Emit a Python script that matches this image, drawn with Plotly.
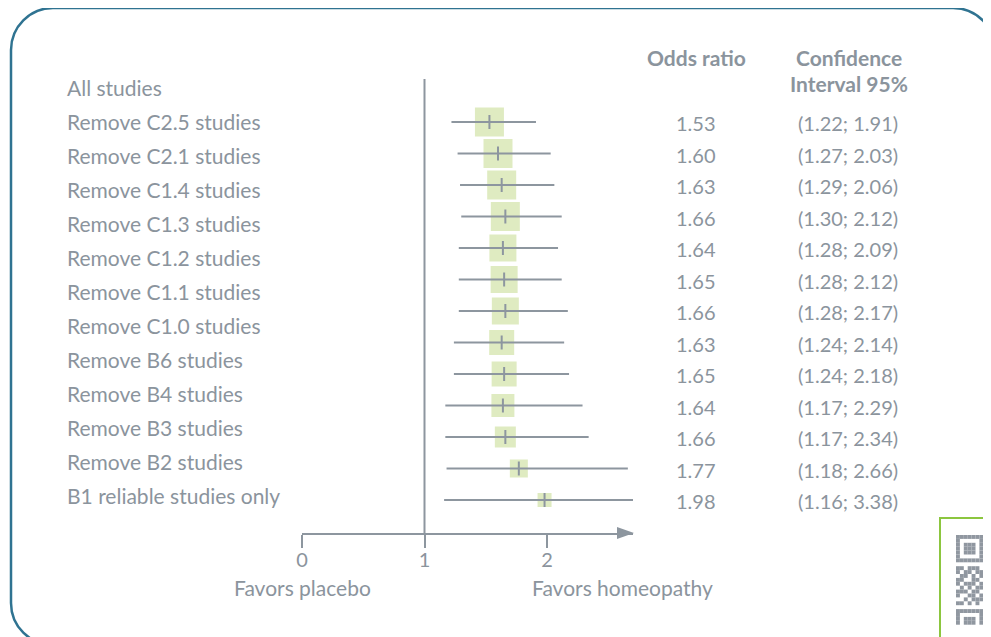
import plotly.graph_objects as go

# ---------------- data ----------------
row_labels = [
    "All studies",
    "Remove C2.5 studies",
    "Remove C2.1 studies",
    "Remove C1.4 studies",
    "Remove C1.3 studies",
    "Remove C1.2 studies",
    "Remove C1.1 studies",
    "Remove C1.0 studies",
    "Remove B6 studies",
    "Remove B4 studies",
    "Remove B3 studies",
    "Remove B2 studies",
    "B1 reliable studies only",
]
odds_ratio = [1.53, 1.60, 1.63, 1.66, 1.64, 1.65, 1.66, 1.63, 1.65, 1.64, 1.66, 1.77, 1.98]
ci_low = [1.22, 1.27, 1.29, 1.30, 1.28, 1.28, 1.28, 1.24, 1.24, 1.17, 1.17, 1.18, 1.16]
ci_high = [1.91, 2.03, 2.06, 2.12, 2.09, 2.12, 2.17, 2.14, 2.18, 2.29, 2.34, 2.66, 3.38]
weights = [29, 29, 29, 29, 27, 27, 27, 25, 25, 23, 21, 18, 14]  # relative box size
x_tick_vals = [0, 1, 2]
x_tick_text = ["0", "1", "2"]

# ---------------- styling ----------------
FONT = "Lato"
GRAY = "#8b949d"
LINE = "#8d969f"
GREEN = "#d1e3a6"
TEAL = "#2f7391"
W, H = 991, 637
OFF = 8  # page body margin
ML, MT = 294, 71
PW, PH = 331, 454
MR = W - ML - PW
MB = H - MT - PH


def px(x):
    """screen x pixel -> paper x"""
    return (x - OFF - ML) / PW


def py(y):
    """screen y pixel -> paper y"""
    return 1 - (y - OFF - MT) / PH


rows = list(range(len(odds_ratio)))

fig = go.Figure()

wx, wy = [], []
for i, lo, hi in zip(rows, ci_low, ci_high):
    wx += [lo, hi, None]
    wy += [i, i, None]
# boxes
fig.add_trace(go.Scatter(x=odds_ratio, y=rows, mode="markers",
                         marker=dict(symbol="square", size=weights, color=GREEN,
                                     line=dict(width=0)), hoverinfo="skip"))
# whiskers
fig.add_trace(go.Scatter(x=wx, y=wy, mode="lines",
                         line=dict(color=LINE, width=2), hoverinfo="skip"))
# point estimate ticks
fig.add_trace(go.Scatter(x=odds_ratio, y=rows, mode="markers",
                         marker=dict(symbol="line-ns", size=10,
                                     line=dict(color=LINE, width=2)),
                         hoverinfo="skip"))
# dummy trace for label axis
fig.add_trace(go.Scatter(x=[None], y=[None], yaxis="y2", showlegend=False))

annotations = []
for j, lab in enumerate(row_labels):
    annotations.append(dict(x=px(65), xref="paper", y=j, yref="y2", text=lab,
                            showarrow=False, xanchor="left", yanchor="middle",
                            font=dict(family=FONT, size=21, color=GRAY)))
for i, o, lo, hi in zip(rows, odds_ratio, ci_low, ci_high):
    annotations.append(dict(x=px(696), xref="paper", y=i, yref="y", text=f"{o:.2f}",
                            showarrow=False, xanchor="center", yanchor="middle",
                            yshift=-1,
                            font=dict(family=FONT, size=20, color=GRAY)))
    annotations.append(dict(x=px(848), xref="paper", y=i, yref="y",
                            text=f"({lo:.2f}; {hi:.2f})",
                            showarrow=False, xanchor="center", yanchor="middle",
                            yshift=-1,
                            font=dict(family=FONT, size=20, color=GRAY)))
# headers
for txt, xc, yc in [("Odds ratio", 696, 58), ("Confidence", 849, 58),
                    ("Interval 95%", 849, 84)]:
    annotations.append(dict(x=px(xc), xref="paper", y=py(yc), yref="paper",
                            text=f"<b>{txt}</b>", showarrow=False,
                            xanchor="center", yanchor="middle",
                            font=dict(family=FONT, size=21, color=GRAY)))
# axis captions
annotations.append(dict(x=0, xref="x", y=py(587), yref="paper",
                        text="Favors placebo", showarrow=False,
                        xanchor="center", yanchor="middle",
                        font=dict(family=FONT, size=21, color=GRAY)))
annotations.append(dict(x=px(622), xref="paper", y=py(587), yref="paper",
                        text="Favors homeopathy", showarrow=False,
                        xanchor="center", yanchor="middle",
                        font=dict(family=FONT, size=21, color=GRAY)))

shapes = []
shapes.append(dict(type="line", x0=1, x1=1, xref="x", y0=0, y1=1, yref="paper",
                   line=dict(color=LINE, width=2), layer="above"))
shapes.append(dict(type="path", xref="paper", yref="paper",
                   path=f"M {px(634)},{py(533)} L {px(617)},{py(527)} L {px(617)},{py(539)} Z",
                   fillcolor=LINE, line=dict(width=0)))


def rounded_rect(x0, y0, x1, y1, r):
    k = 0.5523 * r
    pts = [
        f"M {px(x0 + r)},{py(y0)}",
        f"L {px(x1 - r)},{py(y0)}",
        f"C {px(x1 - r + k)},{py(y0)} {px(x1)},{py(y0 + r - k)} {px(x1)},{py(y0 + r)}",
        f"L {px(x1)},{py(y1 - r)}",
        f"C {px(x1)},{py(y1 - r + k)} {px(x1 - r + k)},{py(y1)} {px(x1 - r)},{py(y1)}",
        f"L {px(x0 + r)},{py(y1)}",
        f"C {px(x0 + r - k)},{py(y1)} {px(x0)},{py(y1 - r + k)} {px(x0)},{py(y1 - r)}",
        f"L {px(x0)},{py(y0 + r)}",
        f"C {px(x0)},{py(y0 + r - k)} {px(x0 + r - k)},{py(y0)} {px(x0 + r)},{py(y0)}",
        "Z",
    ]
    return " ".join(pts)


shapes.append(dict(type="path", xref="paper", yref="paper",
                   path=rounded_rect(11, 8, 995, 645, 42),
                   line=dict(color=TEAL, width=2.5), layer="below"))

# QR code badge (decorative)
shapes.append(dict(type="rect", xref="paper", yref="paper",
                   x0=px(940), x1=px(1000), y0=py(518), y1=py(660),
                   line=dict(color="#8cc63f", width=2), fillcolor="white"))
qr = [
    "111111101",
    "100000101",
    "101110100",
    "101110101",
    "101110110",
    "100000101",
    "111111101",
    "000000001",
    "110111010",
    "101101111",
    "011010101",
    "110011011",
    "101110110",
    "010101101",
    "111011010",
    "100110111",
    "001011101",
    "110101010",
    "000000011",
    "111111101",
    "100000101",
    "101110111",
    "101110100",
]
m = 3.9
for r_i, row in enumerate(qr):
    for c_i, ch in enumerate(row):
        if ch == "1":
            x0 = 956 + c_i * m
            y0 = 535 + r_i * m
            shapes.append(dict(type="rect", xref="paper", yref="paper",
                               x0=px(x0), x1=px(x0 + m), y0=py(y0 + m), y1=py(y0),
                               line=dict(width=0), fillcolor="#9097a0"))

fig.update_layout(
    width=W, height=H,
    margin=dict(l=ML, r=MR, t=MT, b=MB, pad=0),
    paper_bgcolor="white", plot_bgcolor="white",
    showlegend=False,
    xaxis=dict(range=[0, 2.702], showgrid=False, zeroline=False,
               showline=True, linecolor=LINE, linewidth=2,
               ticks="outside", ticklen=13, tickwidth=2, tickcolor=LINE,
               tickvals=x_tick_vals, ticktext=x_tick_text, ticklabelstandoff=-5,
               tickfont=dict(family=FONT, size=20, color=GRAY), fixedrange=True),
    yaxis=dict(range=[(533 - 122) / 31.5, (79 - 122) / 31.5], visible=False,
               fixedrange=True),
    yaxis2=dict(range=[(533 - 87) / 34.08, (79 - 87) / 34.08], visible=False,
                overlaying="y", fixedrange=True),
    annotations=annotations,
    shapes=shapes,
)

fig.write_html("out.html")
